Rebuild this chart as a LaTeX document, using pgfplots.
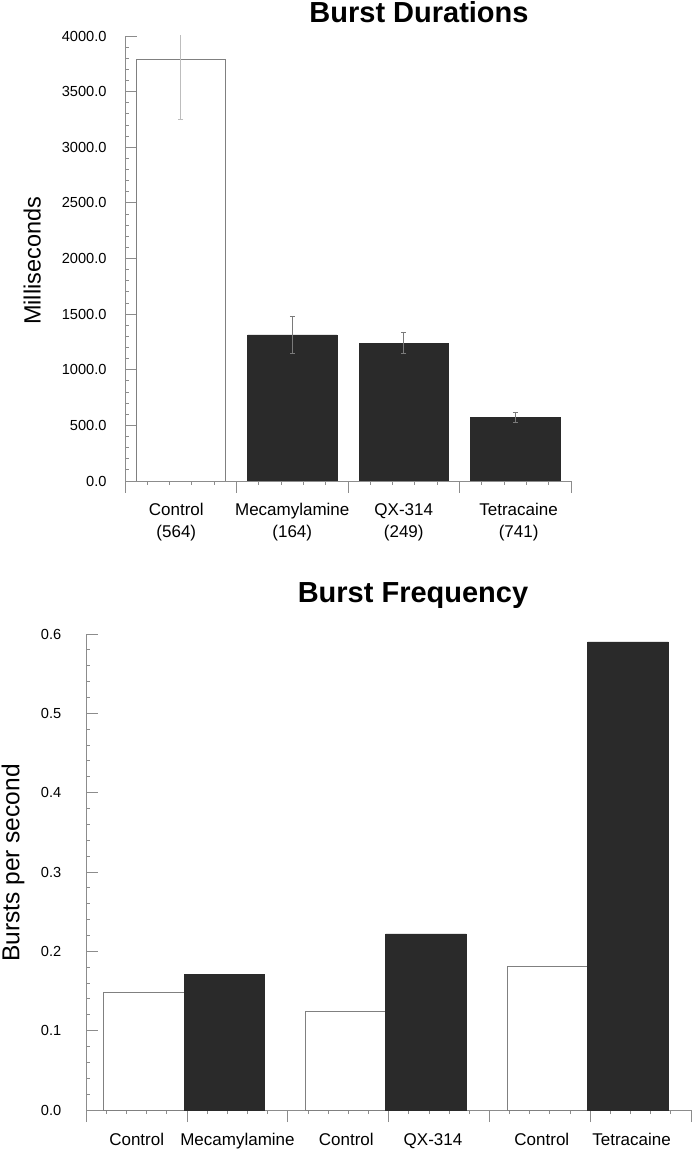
\documentclass[border=0pt]{standalone}
\usepackage{fontspec}
\setmainfont{Liberation Sans}
\usepackage{pgfplots}
\usepackage{pgfplotstable}
\pgfplotsset{compat=1.18}
\definecolor{barDark}{HTML}{2A2A2A}
\definecolor{axisGray}{HTML}{8C8C8C}
\definecolor{barEdge}{HTML}{808080}
\definecolor{errLight}{HTML}{BDBDBD}
\definecolor{errDark}{HTML}{7A7A7A}

\pgfplotstableread{
x y e
0.5 3791 540
}\durCtrl
\pgfplotstableread{
x y e
1.5 1314 166
2.5 1240 93
3.5 569 45
}\durDrug
\pgfplotstableread{
x y
0.57 0.148
2.57 0.124
4.575 0.181
}\freqCtrl
\pgfplotstableread{
x y
1.37 0.171
3.37 0.222
5.375 0.590
}\freqDrug

\pgfplotsset{
  mystyle/.style={
    scale only axis,
    axis lines*=left,
    axis line style={axisGray, line width=0.9pt},
    tick style={axisGray, line width=0.9pt},
    tick align=inside,
    major tick length=12pt,
    minor tick length=4pt,
    major x tick style={yshift=-12pt},
    minor x tick style={yshift=-4pt},
    /pgf/number format/assume math mode=true,
    /pgf/number format/fixed,
    /pgf/number format/fixed zerofill,
    /pgf/number format/precision=1,
    /pgf/number format/1000 sep={},
    yticklabel style={font=\fontsize{14.6}{16}\selectfont},
    xticklabels={},
    extra x tick style={major tick length=0pt},
    xticklabel style={font=\fontsize{17}{22}\selectfont, align=center},
    minor x tick num=4,
    minor y tick num=4,
    clip=true,
  }
}

\begin{document}
\begin{tikzpicture}[x=1pt,y=1pt]
\useasboundingbox (0,0) rectangle (694,1152);

% ---------------- Burst Durations ----------------
\begin{axis}[mystyle,
  at={(125pt,671pt)}, anchor=south west,
  width=446pt, height=445pt,
  xmin=0, xmax=4, ymin=0, ymax=4000,
  xtick={0,1,2,3,4},
  ytick={0,500,...,4000},
  yticklabel style={xshift=-15pt},
  extra x ticks={0.46,1.5,2.5,3.53},
  extra x tick labels={Control\\(564),Mecamylamine\\(164),QX-314\\(249),Tetracaine\\(741)},
  xticklabel style={yshift=-19pt},
]
\addplot[ybar, bar width=0.8, bar shift=0pt, fill=white, draw=barEdge, line width=0.9pt,
  error bars/.cd, y dir=both, y explicit,
  error bar style={errLight, line width=0.9pt},
  error mark options={rotate=90, mark size=2.5pt, errLight, line width=0.9pt}]
  table[x=x, y=y, y error=e] {\durCtrl};
\addplot[ybar, bar width=0.8, bar shift=0pt, fill=barDark, draw=barDark,
  error bars/.cd, y dir=both, y explicit,
  error bar style={errDark, line width=0.9pt},
  error mark options={rotate=90, mark size=2.5pt, errDark, line width=0.9pt}]
  table[x=x, y=y, y error=e] {\durDrug};
\end{axis}

% ---------------- Burst Frequency ----------------
\begin{axis}[mystyle,
  at={(86.3pt,42pt)}, anchor=south west,
  width=604.7pt, height=476pt,
  xmin=0, xmax=6, ymin=0, ymax=0.6,
  xtick={0,1,...,6},
  ytick={0,0.1,...,0.6},
  yticklabel style={xshift=-21.5pt},
  extra x ticks={0.5,1.5,2.58,3.44,4.52,5.41},
  extra x tick labels={Control,Mecamylamine,Control,QX-314,Control,Tetracaine},
  xticklabel style={yshift=-20pt},
]
\addplot[ybar, bar width=0.8, bar shift=0pt, fill=white, draw=barEdge, line width=0.9pt]
  table[x=x, y=y] {\freqCtrl};
\addplot[ybar, bar width=0.8, bar shift=0pt, fill=barDark, draw=barDark]
  table[x=x, y=y] {\freqDrug};
\end{axis}

% titles and axis labels
\node[anchor=base, font=\fontsize{29}{33}\selectfont\bfseries] at (419,1129) {Burst Durations};
\node[anchor=base, font=\fontsize{29}{33}\selectfont\bfseries] at (413,549) {Burst Frequency};
\node[anchor=base, rotate=90, font=\fontsize{23.5}{27}\selectfont] at (40.7,891) {Milliseconds};
\node[anchor=base, rotate=90, font=\fontsize{24.5}{28}\selectfont] at (19.5,289) {Bursts per second};
\end{tikzpicture}
\end{document}
